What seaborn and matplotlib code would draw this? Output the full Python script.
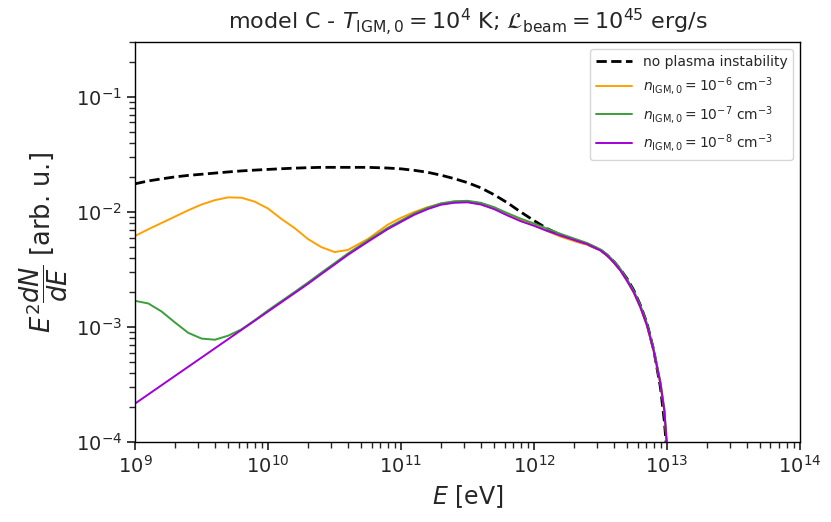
"""E^2 dN/dE cascade spectra, model C, with and without plasma instability."""
import matplotlib
matplotlib.use("Agg")
import matplotlib.pyplot as plt
import numpy as np
import pandas as pd
import seaborn as sns

# log10(E / eV) grid shared by the curves
log_e = [9.0, 9.1, 9.2, 9.3, 9.4, 9.5, 9.6, 9.7, 9.8, 9.9,
         10.0, 10.1, 10.2, 10.3, 10.4, 10.5, 10.6, 10.75, 10.9,
         11.0, 11.1, 11.2, 11.3, 11.4, 11.5, 11.6, 11.7, 11.8, 11.9,
         12.0, 12.1, 12.2, 12.3, 12.4, 12.5, 12.55, 12.6, 12.65, 12.7, 12.75,
         12.8, 12.85, 12.9, 12.95, 12.98, 13.0]

# log10(E^2 dN/dE) per curve
no_plasma = [-1.755, -1.73, -1.712, -1.695, -1.682, -1.672, -1.662, -1.652, -1.643, -1.636,
             -1.63, -1.624, -1.619, -1.615, -1.612, -1.612, -1.612, -1.612, -1.618,
             -1.625, -1.638, -1.655, -1.68, -1.71, -1.745, -1.79, -1.85, -1.92, -2.0,
             -2.075, -2.145, -2.2, -2.245, -2.28, -2.33, -2.375, -2.43, -2.5, -2.58, -2.68,
             -2.81, -2.97, -3.2, -3.52, -3.82, -4.1]
n_m6 = [-2.208, -2.15, -2.095, -2.04, -1.985, -1.935, -1.897, -1.873, -1.876, -1.91,
        -1.97, -2.06, -2.14, -2.235, -2.305, -2.348, -2.33, -2.235, -2.11,
        -2.05, -2.0, -1.958, -1.928, -1.91, -1.907, -1.925, -1.965, -2.02, -2.07,
        -2.115, -2.165, -2.215, -2.252, -2.285, -2.335, -2.38, -2.44, -2.51, -2.6, -2.7,
        -2.83, -2.99, -3.21, -3.49, -3.73, -4.05]
n_m7 = [-2.772, -2.795, -2.865, -2.96, -3.05, -3.10, -3.11, -3.075, -3.02, -2.94,
        -2.855, -2.775, -2.695, -2.613, -2.528, -2.445, -2.361, -2.247, -2.137,
        -2.074, -2.012, -1.963, -1.925, -1.907, -1.903, -1.92, -1.958, -2.01, -2.058,
        -2.1, -2.145, -2.19, -2.23, -2.27, -2.325, -2.37, -2.425, -2.495, -2.585, -2.685,
        -2.81, -2.97, -3.19, -3.47, -3.71, -4.02]
n_m8 = [-3.665, -3.585, -3.505, -3.425, -3.345, -3.265, -3.185, -3.105, -3.025, -2.945,
        -2.865, -2.785, -2.705, -2.625, -2.54, -2.457, -2.373, -2.259, -2.149,
        -2.086, -2.024, -1.975, -1.937, -1.92, -1.916, -1.935, -1.975, -2.03, -2.08,
        -2.12, -2.165, -2.205, -2.243, -2.28, -2.335, -2.38, -2.44, -2.51, -2.6, -2.7,
        -2.83, -2.99, -3.21, -3.49, -3.73, -4.05]

labels = [
    "no plasma instability",
    r"$n_{\rm IGM,0} = 10^{-6}$ cm$^{-3}$",
    r"$n_{\rm IGM,0} = 10^{-7}$ cm$^{-3}$",
    r"$n_{\rm IGM,0} = 10^{-8}$ cm$^{-3}$",
]
colors = ["black", "#ffa000", "#3a9e3a", "#a000d8"]
styles = ["--", "-", "-", "-"]
widths = [2.0, 1.4, 1.4, 1.4]

sns.set_theme(style="ticks")
plt.rcParams["font.family"] = ["DejaVu Sans"]
plt.rcParams["mathtext.fontset"] = "dejavusans"

energy = 10 ** np.array(log_e)
fig, ax = plt.subplots(figsize=(8.31, 5.22), dpi=100)
fig.subplots_adjust(left=0.1625, right=0.9627, bottom=0.153, top=0.9195)

for series, lab, col, ls, lw in zip([no_plasma, n_m6, n_m7, n_m8], labels, colors, styles, widths):
    df = pd.DataFrame({"E": energy, "flux": 10 ** np.array(series)})
    sns.lineplot(data=df, x="E", y="flux", ax=ax, color=col, linestyle=ls,
                 linewidth=lw, label=lab)

ax.set(xscale="log", yscale="log")
ax.set_xlim(1e9, 1e14)
ax.set_ylim(1e-4, 0.3)
ax.set_xlabel(r"$E$ [eV]", fontsize=17)
ax.set_ylabel(r"$E^2\dfrac{dN}{dE}$ [arb. u.]", fontsize=18.5)
ax.set_title(r"model C - $T_{\rm IGM,0} = 10^4$ K; $\mathcal{L}_{\rm beam} = 10^{45}$ erg/s",
             fontsize=16, pad=9)
ax.tick_params(which="both", direction="out", labelsize=14)
for sp in ax.spines.values():
    sp.set_visible(True)
    sp.set_color("black")
    sp.set_linewidth(1.0)

ax.legend(loc="upper right", fontsize=10, frameon=True, fancybox=True,
          framealpha=0.8, edgecolor="#cccccc", handlelength=2.6)

fig.savefig("out.png", dpi=100)
